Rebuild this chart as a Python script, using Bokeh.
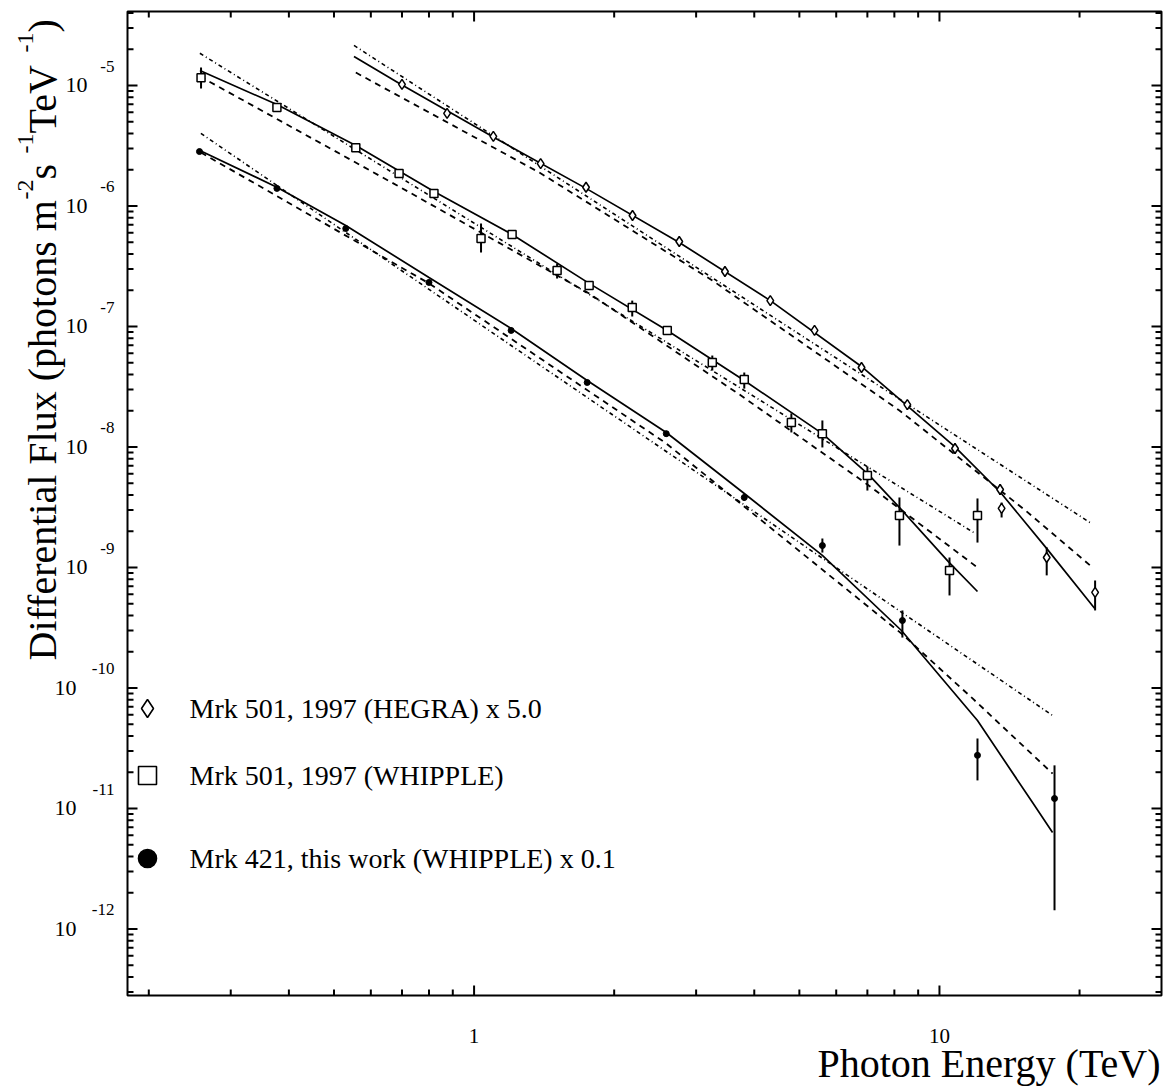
import math
from bokeh.plotting import figure
from bokeh.models import Label, Range1d, LinearScale
from bokeh.embed import file_html
from bokeh.resources import INLINE

# ---------------- data ----------------
# Mrk 501, 1997 (HEGRA) x 5.0  (diamonds)
hegra_E = [0.70, 0.875, 1.10, 1.39, 1.74, 2.19, 2.76, 3.46, 4.33, 5.39, 6.80, 8.53, 10.8, 13.5, 13.6, 17.0, 21.6]
hegra_F = [1.02e-5, 5.86e-6, 3.78e-6, 2.25e-6, 1.43e-6, 8.34e-7, 5.07e-7, 2.86e-7, 1.64e-7, 9.27e-8,
           4.57e-8, 2.25e-8, 9.72e-9, 4.44e-9, 3.09e-9, 1.21e-9, 6.21e-10]
hegra_hi = [1.08e-5, 6.2e-6, 4.0e-6, 2.38e-6, 1.51e-6, 8.8e-7, 5.4e-7, 3.05e-7, 1.76e-7, 1.00e-7,
            4.95e-8, 2.45e-8, 1.07e-8, 4.9e-9, 3.46e-9, 1.47e-9, 7.8e-10]
hegra_lo = [9.6e-6, 5.5e-6, 3.6e-6, 2.12e-6, 1.35e-6, 7.9e-7, 4.8e-7, 2.7e-7, 1.53e-7, 8.6e-8,
            4.2e-8, 2.05e-8, 8.8e-9, 4.0e-9, 2.60e-9, 8.6e-10, 4.4e-10]

# Mrk 501, 1997 (WHIPPLE)  (open squares)
whip_E = [0.259, 0.377, 0.557, 0.690, 0.820, 1.035, 1.207, 1.508, 1.767, 2.187, 2.601, 3.250, 3.807,
          4.806, 5.603, 7.001, 8.204, 10.51, 12.07]
whip_F = [1.16e-5, 6.57e-6, 3.05e-6, 1.86e-6, 1.27e-6, 5.37e-7, 5.80e-7, 2.92e-7, 2.19e-7, 1.44e-7,
          9.27e-8, 5.03e-8, 3.63e-8, 1.60e-8, 1.29e-8, 5.79e-9, 2.70e-9, 9.44e-10, 2.70e-9]
whip_hi = [1.41e-5, 6.9e-6, 3.2e-6, 1.95e-6, 1.33e-6, 7.16e-7, 6.1e-7, 3.33e-7, 2.3e-7, 1.64e-7,
           9.8e-8, 5.74e-8, 4.15e-8, 1.90e-8, 1.66e-8, 6.89e-9, 3.81e-9, 1.21e-9, 3.74e-9]
whip_lo = [9.44e-6, 6.25e-6, 2.9e-6, 1.77e-6, 1.21e-6, 4.11e-7, 5.5e-7, 2.50e-7, 2.08e-7, 1.21e-7,
           8.8e-8, 4.31e-8, 3.05e-8, 1.32e-8, 9.91e-9, 4.35e-9, 1.52e-9, 5.86e-10, 1.61e-9]

# Mrk 421, this work (WHIPPLE) x 0.1  (filled circles)
m421_E = [0.257, 0.377, 0.530, 0.800, 1.201, 1.750, 2.588, 3.807, 5.603, 8.325, 12.07, 17.67]
m421_F = [2.83e-6, 1.40e-6, 6.50e-7, 2.32e-7, 9.27e-8, 3.43e-8, 1.29e-8, 3.81e-9, 1.52e-9, 3.63e-10,
          2.76e-11, 1.21e-11]
m421_hi = [2.95e-6, 1.46e-6, 6.8e-7, 2.42e-7, 9.7e-8, 3.6e-8, 1.36e-8, 4.05e-9, 1.74e-9, 4.4e-10,
           3.81e-11, 2.28e-11]
m421_lo = [2.71e-6, 1.34e-6, 6.2e-7, 2.22e-7, 8.85e-8, 3.27e-8, 1.22e-8, 3.58e-9, 1.33e-9, 2.62e-10,
           1.71e-11, 1.43e-12]

# fitted curves
hegra_solid_E = [0.552, 0.697, 1.104, 1.740, 2.760, 4.332, 6.796, 10.77, 13.53, 16.99, 21.56]
hegra_solid_F = [1.74e-5, 1.02e-5, 3.70e-6, 1.40e-6, 4.98e-7, 1.64e-7, 4.66e-8, 1.01e-8, 4.19e-9, 1.44e-9, 4.57e-10]
hegra_dash_E = [0.557, 1.380, 3.250, 8.204, 15.31, 21.33]
hegra_dash_F = [1.28e-5, 1.90e-6, 2.41e-7, 2.01e-8, 2.97e-9, 1.00e-9]
hegra_dot_E = [0.552, 21.2]
hegra_dot_F = [2.15e-5, 2.32e-9]

whip_solid_E = [0.2575, 0.377, 0.557, 0.820, 1.207, 1.767, 2.601, 3.807, 5.603, 7.035, 8.237, 10.45, 12.07]
whip_solid_F = [1.33e-5, 6.95e-6, 3.18e-6, 1.32e-6, 5.80e-7, 2.28e-7, 9.27e-8, 3.56e-8, 1.29e-8, 5.92e-9,
                3.09e-9, 1.12e-9, 6.32e-10]
whip_dash_E = [0.2575, 0.690, 1.767, 3.715, 7.001, 12.07]
whip_dash_F = [1.19e-5, 1.45e-6, 1.88e-7, 2.73e-8, 4.89e-9, 1.00e-9]
whip_dot_E = [0.2575, 11.95]
whip_dot_F = [1.85e-5, 1.91e-9]

m421_solid_E = [0.2575, 0.377, 0.530, 0.800, 1.201, 1.750, 2.588, 3.807, 5.603, 8.285, 12.07, 15.85, 17.50]
m421_solid_F = [2.89e-6, 1.43e-6, 6.89e-7, 2.55e-7, 9.62e-8, 3.56e-8, 1.32e-8, 4.11e-9, 1.26e-9, 3.00e-10,
                5.37e-11, 1.12e-11, 6.32e-12]
m421_dash_E = [0.2588, 0.800, 2.588, 8.285, 11.78, 17.50]
m421_dash_F = [2.78e-6, 2.28e-7, 1.07e-8, 2.83e-10, 8.19e-11, 1.95e-11]
m421_dot_E = [0.2588, 17.50]
m421_dot_F = [4.00e-6, 5.91e-11]

legend_labels = ["Mrk 501, 1997 (HEGRA) x 5.0", "Mrk 501, 1997 (WHIPPLE)", "Mrk 421, this work (WHIPPLE) x 0.1"]
legend_markers = ["diamond", "square", "circle"]
legend_fills = ["white", "white", "black"]

x_major_ticks = [1, 10]
x_minor_ticks = [0.2, 0.3, 0.4, 0.5, 0.6, 0.7, 0.8, 0.9, 2, 3, 4, 5, 6, 7, 8, 9, 20]
x_tick_labels = ["1", "10"]
y_tick_exps = [-5, -6, -7, -8, -9, -10, -11, -12]
y_major_ticks = [10.0 ** e for e in y_tick_exps]
y_minor_ticks = [k * 10.0 ** n for n in range(-13, -4) for k in range(2, 10) if 10 ** -12.55 < k * 10.0 ** n < 10 ** -4.39]

# axis limits of the drawn box
x_lo, x_hi = 0.18, 30.0
y_lo, y_hi = 10 ** -12.552, 10 ** -4.386

# ---------------- layout (pixel positions, top-left origin) ----------------
W, H = 1167, 1089
FL, FR, FT, FB = 127, 1161, 11, 995      # the drawn box
SERIF = "Liberation Serif"
legend_px = [147, 147, 147]
legend_py = [708, 775, 858]
MAJ, MIN = 10, 6

kx = (FR - FL) / math.log10(x_hi / x_lo)
ky = (FB - FT) / math.log10(y_hi / y_lo)
XL = 10 ** (math.log10(x_lo) - FL / kx)
XR = 10 ** (math.log10(x_hi) + (W - FR) / kx)
YB = 10 ** (math.log10(y_lo) - (H - FB) / ky)
YT = 10 ** (math.log10(y_hi) + FT / ky)

p = figure(width=W, height=H, x_axis_type="log", y_axis_type="log",
           x_axis_location=None, y_axis_location=None,
           x_range=Range1d(XL, XR), y_range=Range1d(YB, YT),
           output_backend="svg", toolbar_location=None,
           min_border_left=0, min_border_right=0, min_border_top=0, min_border_bottom=0)
p.xgrid.visible = False
p.ygrid.visible = False
p.outline_line_color = None
p.background_fill_color = "white"
p.border_fill_color = "white"

# pixel-space ranges for frame, ticks, legend and text placement
p.extra_x_ranges = {"px": Range1d(0, W)}
p.extra_y_ranges = {"py": Range1d(H, 0)}
p.extra_x_scales = {"px": LinearScale()}
p.extra_y_scales = {"py": LinearScale()}

# box
p.quad(left=[FL], right=[FR], top=[FT], bottom=[FB], x_range_name="px", y_range_name="py",
       fill_color=None, line_color="black", line_width=2)

# ticks (inward, on all four sides)
def xticks(vals, length):
    n = len(vals)
    p.segment(x0=vals, x1=vals, y0=[FB] * n, y1=[FB - length] * n, y_range_name="py",
              line_color="black", line_width=2)
    p.segment(x0=vals, x1=vals, y0=[FT] * n, y1=[FT + length] * n, y_range_name="py",
              line_color="black", line_width=2)

def yticks(vals, length):
    n = len(vals)
    p.segment(x0=[FL] * n, x1=[FL + length] * n, y0=vals, y1=vals, x_range_name="px",
              line_color="black", line_width=2)
    p.segment(x0=[FR] * n, x1=[FR - length] * n, y0=vals, y1=vals, x_range_name="px",
              line_color="black", line_width=2)

xticks(x_major_ticks, MAJ)
xticks(x_minor_ticks, MIN)
yticks(y_major_ticks, MAJ)
yticks(y_minor_ticks, MIN)

# ---------------- curves ----------------
curves = [
    (hegra_solid_E, hegra_solid_F, hegra_dash_E, hegra_dash_F, hegra_dot_E, hegra_dot_F),
    (whip_solid_E, whip_solid_F, whip_dash_E, whip_dash_F, whip_dot_E, whip_dot_F),
    (m421_solid_E, m421_solid_F, m421_dash_E, m421_dash_F, m421_dot_E, m421_dot_F),
]
for sE, sF, dE, dF, oE, oF in curves:
    p.line(sE, sF, line_color="black", line_width=1.7)
    p.line(dE, dF, line_color="black", line_width=1.8, line_dash="6 5")
    p.line(oE, oF, line_color="black", line_width=1.6, line_dash="4 3 1 3")

# error bars
for E, lo, hi in [(hegra_E, hegra_lo, hegra_hi), (whip_E, whip_lo, whip_hi), (m421_E, m421_lo, m421_hi)]:
    p.segment(x0=E, y0=lo, x1=E, y1=hi, line_color="black", line_width=2)

p.scatter(hegra_E, hegra_F, marker="diamond", size=10, fill_color="white", line_color="black", line_width=1.5)
p.scatter(whip_E, whip_F, marker="square", size=8, fill_color="white", line_color="black", line_width=1.5)
p.scatter(m421_E, m421_F, marker="circle", size=6, fill_color="black", line_color="black", line_width=1)

# legend symbols and texts
for i in range(3):
    p.scatter([legend_px[i]], [legend_py[i]], x_range_name="px", y_range_name="py",
              marker=legend_markers[i], size=18, fill_color=legend_fills[i],
              line_color="black", line_width=1.6)
    p.add_layout(Label(x=189, y=legend_py[i], x_range_name="px", y_range_name="py",
                       text=legend_labels[i], text_align="left", text_baseline="middle",
                       text_font=SERIF, text_font_size="28px", text_color="black"))

# ---------------- tick labels ----------------
for e in y_tick_exps:
    two = abs(e) >= 10
    p.add_layout(Label(x=(76 if two else 87), y=10.0 ** e, x_range_name="px",
                       text="10", text_align="right", text_baseline="middle",
                       text_font=SERIF, text_font_size="22px", text_color="black"))
    p.add_layout(Label(x=114, y=10.0 ** e, y_offset=19, x_range_name="px",
                       text=str(e), text_align="right", text_baseline="middle",
                       text_font=SERIF, text_font_size="17px", text_color="black"))

for v, t in zip(x_major_ticks, x_tick_labels):
    p.add_layout(Label(x=v, y=1035, y_range_name="py", text=t,
                       text_align="center", text_baseline="middle",
                       text_font=SERIF, text_font_size="21px", text_color="black"))

# x axis title
p.add_layout(Label(x=1160, y=1063, x_range_name="px", y_range_name="py",
                   text="Photon Energy (TeV)", text_align="right", text_baseline="middle",
                   text_font=SERIF, text_font_size="40px", text_color="black"))

# y axis title, built in pieces with raised exponents (x = centre line of each piece)
ytitle = [("Differential Flux (photons m", 660, 42, "40px"), ("-2", 199, 25, "24px"),
          (" s", 179, 42, "40px"), ("-1", 153, 25, "24px"), (" TeV", 133, 42, "40px"),
          ("-1", 52, 25, "24px"), (")", 32, 42, "40px")]
for txt, ystart, xc, fs in ytitle:
    p.add_layout(Label(x=xc, y=ystart, x_range_name="px", y_range_name="py",
                       text=txt, angle=math.pi / 2, text_align="left", text_baseline="middle",
                       text_font=SERIF, text_font_size=fs, text_color="black"))

open("out.html", "w").write(file_html(p, INLINE))
